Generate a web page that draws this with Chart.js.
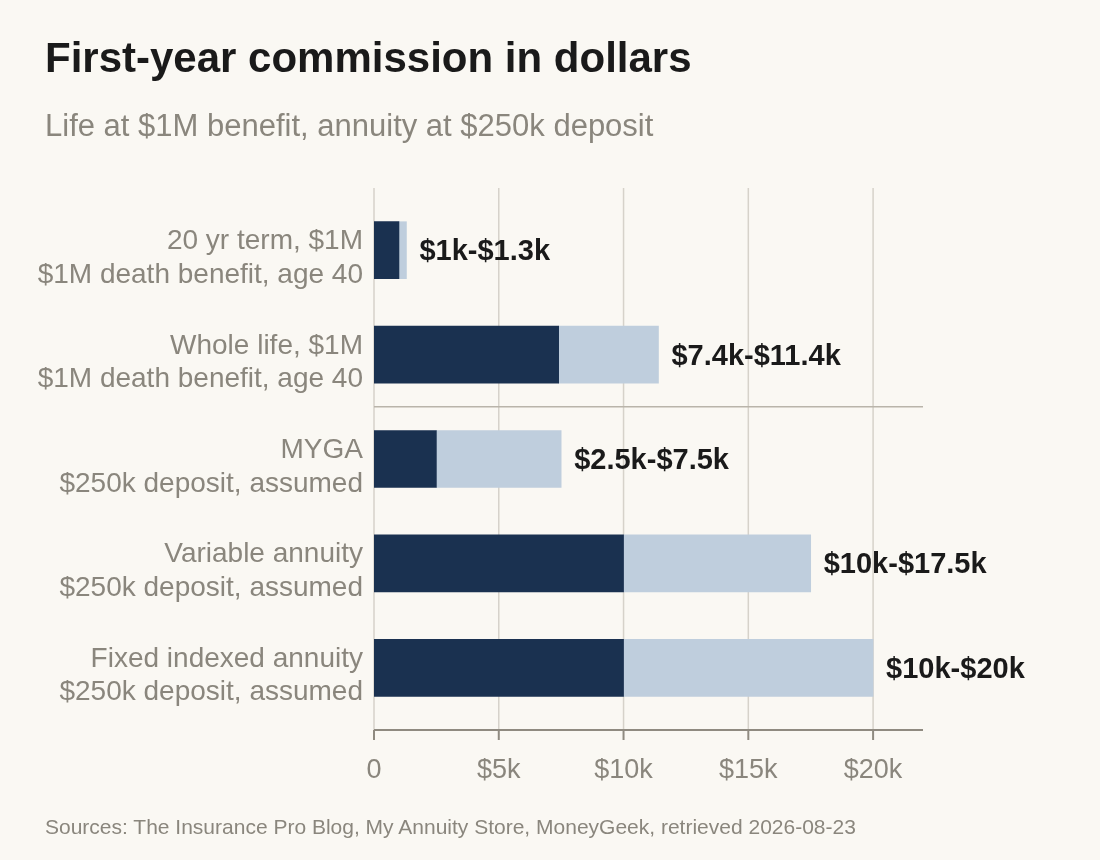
<!DOCTYPE html>
<html>
<head>
<meta charset="utf-8">
<script src="https://cdn.jsdelivr.net/npm/chart.js@4"></script>
<style>
  html, body { margin: 0; padding: 0; background: #faf8f3; }
  #wrap { position: relative; width: 1100px; height: 860px; font-family: "Liberation Sans", Arial, sans-serif; }
  #chart-canvas { position: absolute; left: 0; top: 0; }
  .title { position: absolute; left: 45px; top: 34px; font-size: 42px; font-weight: bold; color: #1a1a1a; white-space: nowrap; }
  .subtitle { position: absolute; left: 45px; top: 108px; font-size: 31px; color: #8a867d; white-space: nowrap; }
  .footer { position: absolute; left: 45px; top: 815px; font-size: 21px; color: #8a867d; white-space: nowrap; }
</style>
</head>
<body>
<div id="wrap">
  <canvas id="chart-canvas" width="1100" height="860"></canvas>
  <div class="title">First-year commission in dollars</div>
  <div class="subtitle">Life at $1M benefit, annuity at $250k deposit</div>
  <div class="footer">Sources: The Insurance Pro Blog, My Annuity Store, MoneyGeek, retrieved 2026-08-23</div>
</div>
<script>
// Data (dollars)
const categories = [
    ['20 yr term, $1M', '$1M death benefit, age 40'],
    ['Whole life, $1M', '$1M death benefit, age 40'],
    ['MYGA', '$250k deposit, assumed'],
    ['Variable annuity', '$250k deposit, assumed'],
    ['Fixed indexed annuity', '$250k deposit, assumed']
];
const lowValues = [1000, 7400, 2500, 10000, 10000];
const highValues = [1300, 11400, 7500, 17500, 20000];
const rangeLabels = ['$1k-$1.3k', '$7.4k-$11.4k', '$2.5k-$7.5k', '$10k-$17.5k', '$10k-$20k'];
const xTicks = [0, 5000, 10000, 15000, 20000];

const gridColor = '#d6d2ca';
const axisColor = '#8f8a80';
const labelGray = '#8a867d';

// Vertical grid lines, axis line with tick marks, and the life/annuity separator
const gridPlugin = {
    id: 'gridPlugin',
    beforeDatasetsDraw(chart) {
        const { ctx, chartArea, scales } = chart;
        const top = chartArea.top - 10;
        const bottom = chartArea.bottom + 10;
        ctx.save();
        ctx.strokeStyle = gridColor;
        ctx.lineWidth = 1.5;
        xTicks.forEach(v => {
            const x = scales.x.getPixelForValue(v);
            ctx.beginPath();
            ctx.moveTo(x, top);
            ctx.lineTo(x, bottom);
            ctx.stroke();
        });
        ctx.restore();
    },
    afterDatasetsDraw(chart) {
        const { ctx, chartArea, scales } = chart;
        const bottom = chartArea.bottom + 10;
        ctx.save();
        // separator between life and annuity products
        const ySep = (scales.y.getPixelForValue(1) + scales.y.getPixelForValue(2)) / 2;
        ctx.strokeStyle = '#b9b4aa';
        ctx.lineWidth = 1.5;
        ctx.beginPath();
        ctx.moveTo(chartArea.left, ySep);
        ctx.lineTo(chartArea.right, ySep);
        ctx.stroke();

        // x axis line and ticks
        ctx.strokeStyle = axisColor;
        ctx.lineWidth = 2;
        ctx.beginPath();
        ctx.moveTo(chartArea.left, bottom);
        ctx.lineTo(chartArea.right, bottom);
        ctx.stroke();
        xTicks.forEach(v => {
            const x = scales.x.getPixelForValue(v);
            ctx.beginPath();
            ctx.moveTo(x, bottom);
            ctx.lineTo(x, bottom + 10);
            ctx.stroke();
        });

        // range labels at bar ends
        ctx.fillStyle = '#1a1a1a';
        ctx.font = 'bold 29px "Liberation Sans", Arial, sans-serif';
        ctx.textAlign = 'left';
        ctx.textBaseline = 'middle';
        highValues.forEach((v, i) => {
            const x = scales.x.getPixelForValue(v) + 13;
            const y = scales.y.getPixelForValue(i) + 2;
            ctx.fillText(rangeLabels[i], x, y);
        });
        ctx.restore();
    }
};

const ctx = document.getElementById('chart-canvas').getContext('2d');
new Chart(ctx, {
    type: 'bar',
    data: {
        labels: categories,
        datasets: [{
            data: lowValues,
            backgroundColor: '#1a3150',
            barThickness: 57
        }, {
            data: highValues.map((v, i) => v - lowValues[i]),
            backgroundColor: '#bfcedd',
            barThickness: 57
        }]
    },
    options: {
        indexAxis: 'y',
        responsive: false,
        animation: false,
        layout: { padding: { top: 198, right: 177, left: 0, bottom: 0 } },
        plugins: {
            legend: { display: false },
            tooltip: { enabled: false }
        },
        scales: {
            x: {
                stacked: true,
                min: 0,
                max: 22000,
                afterFit(scale) { scale.height = 140; },
                afterBuildTicks(scale) { scale.ticks = xTicks.map(v => ({ value: v })); },
                grid: { display: false },
                border: { display: false },
                ticks: {
                    padding: 26,
                    color: labelGray,
                    font: { family: '"Liberation Sans", Arial, sans-serif', size: 27 },
                    callback: v => v === 0 ? '0' : '$' + (v / 1000) + 'k'
                }
            },
            y: {
                stacked: true,
                afterFit(scale) { scale.width = 374; },
                grid: { display: false },
                border: { display: false },
                ticks: {
                    padding: 3,
                    labelOffset: 8,
                    color: labelGray,
                    font: { family: '"Liberation Sans", Arial, sans-serif', size: 28, lineHeight: 1.2 }
                }
            }
        }
    },
    plugins: [gridPlugin]
});
</script>
</body>
</html>
